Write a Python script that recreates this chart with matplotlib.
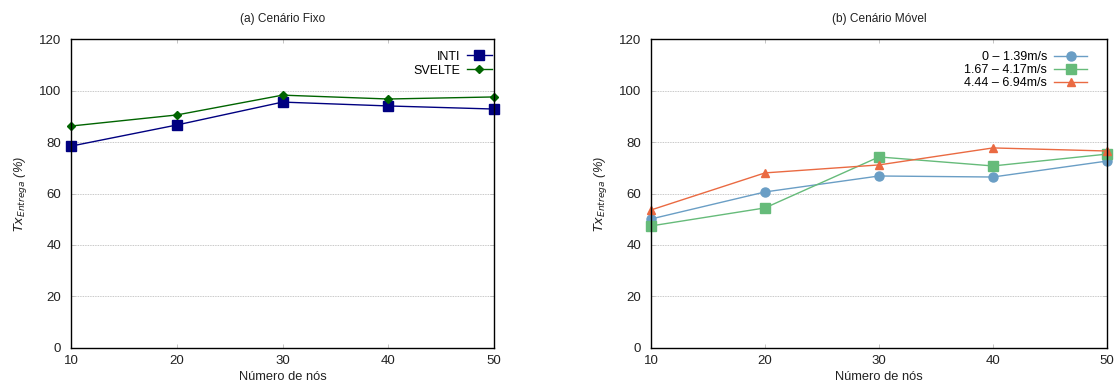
import matplotlib
matplotlib.use('Agg')
from matplotlib import pyplot as plt

plt.rcParams['font.family'] = ['Liberation Sans', 'DejaVu Sans']
plt.rcParams['font.size'] = 9

# data
nodes = [10, 20, 30, 40, 50]
inti = [78.4, 86.6, 95.5, 94.0, 92.8]
svelte = [86.2, 90.5, 98.2, 96.7, 97.5]

vel_labels = ['0 – 1.39m/s', '1.67 – 4.17m/s', '4.44 – 6.94m/s']
vel_low = [50.1, 60.6, 66.8, 66.4, 72.6]
vel_mid = [47.4, 54.4, 74.2, 70.7, 75.3]
vel_high = [53.6, 68.0, 71.1, 77.7, 76.5]

fig = plt.figure(figsize=(11.16, 3.87), dpi=100)
ax1 = fig.add_axes([0.0636, 0.1008, 0.3791, 0.7984])
ax2 = fig.add_axes([0.5833, 0.1008, 0.4086, 0.7984])

def style(ax, title):
	ax.set_xlim(10, 50)
	ax.set_ylim(0, 120)
	ax.set_xticks(nodes)
	ax.set_yticks(range(0, 121, 20))
	ax.yaxis.grid(True, color='#b5b5b5', linestyle=(0, (1, 1)), linewidth=0.6)
	ax.tick_params(direction='in', length=3, width=0.6, top=True, right=True,
		colors='#bbbbbb', labelcolor='#222222', labelsize=9.5)
	ax.tick_params(axis='y', pad=7)
	ax.tick_params(axis='x', pad=5)
	for s in ax.spines.values():
		s.set_linewidth(1.0)
		s.set_zorder(5)
	ax.set_xlabel('Número de nós', labelpad=3, fontsize=9.3, color='#222222')
	ax.set_ylabel(r'$Tx_{Entrega}$ (%)', fontstyle='italic', labelpad=7, fontsize=9.3, color='#222222')
	ax.set_title(title, fontsize=8.6, pad=12, color='#222222')

ax1.plot(nodes, inti, color='#000080', marker='s', markersize=6.5, linewidth=1.0, label='INTI', clip_on=False, zorder=3)
ax1.plot(nodes, svelte, color='#006400', marker='D', markersize=4.5, linewidth=1.0, label='SVELTE', clip_on=False, zorder=3)
style(ax1, '(a) Cenário Fixo')
ax1.legend(loc='upper right', bbox_to_anchor=(0.995, 0.962), frameon=False, markerfirst=False,
	handlelength=2.0, handletextpad=0.5, borderpad=0, borderaxespad=0, labelspacing=0.15, fontsize=9)

ax2.plot(nodes, vel_low, color='#6a9ec5', marker='o', markersize=6.5, linewidth=1.0, label=vel_labels[0], clip_on=False, zorder=3)
ax2.plot(nodes, vel_mid, color='#66bb7a', marker='s', markersize=6.5, linewidth=1.0, label=vel_labels[1], clip_on=False, zorder=3)
ax2.plot(nodes, vel_high, color='#ea6a42', marker='^', markersize=5.5, linewidth=1.0, label=vel_labels[2], clip_on=False, zorder=3)
style(ax2, '(b) Cenário Móvel')
ax2.legend(loc='upper right', bbox_to_anchor=(0.956, 0.96), frameon=False, markerfirst=False,
	handlelength=2.6, handletextpad=0.6, borderpad=0, borderaxespad=0, labelspacing=0.08, fontsize=9)

plt.savefig('out.png', dpi=100)
